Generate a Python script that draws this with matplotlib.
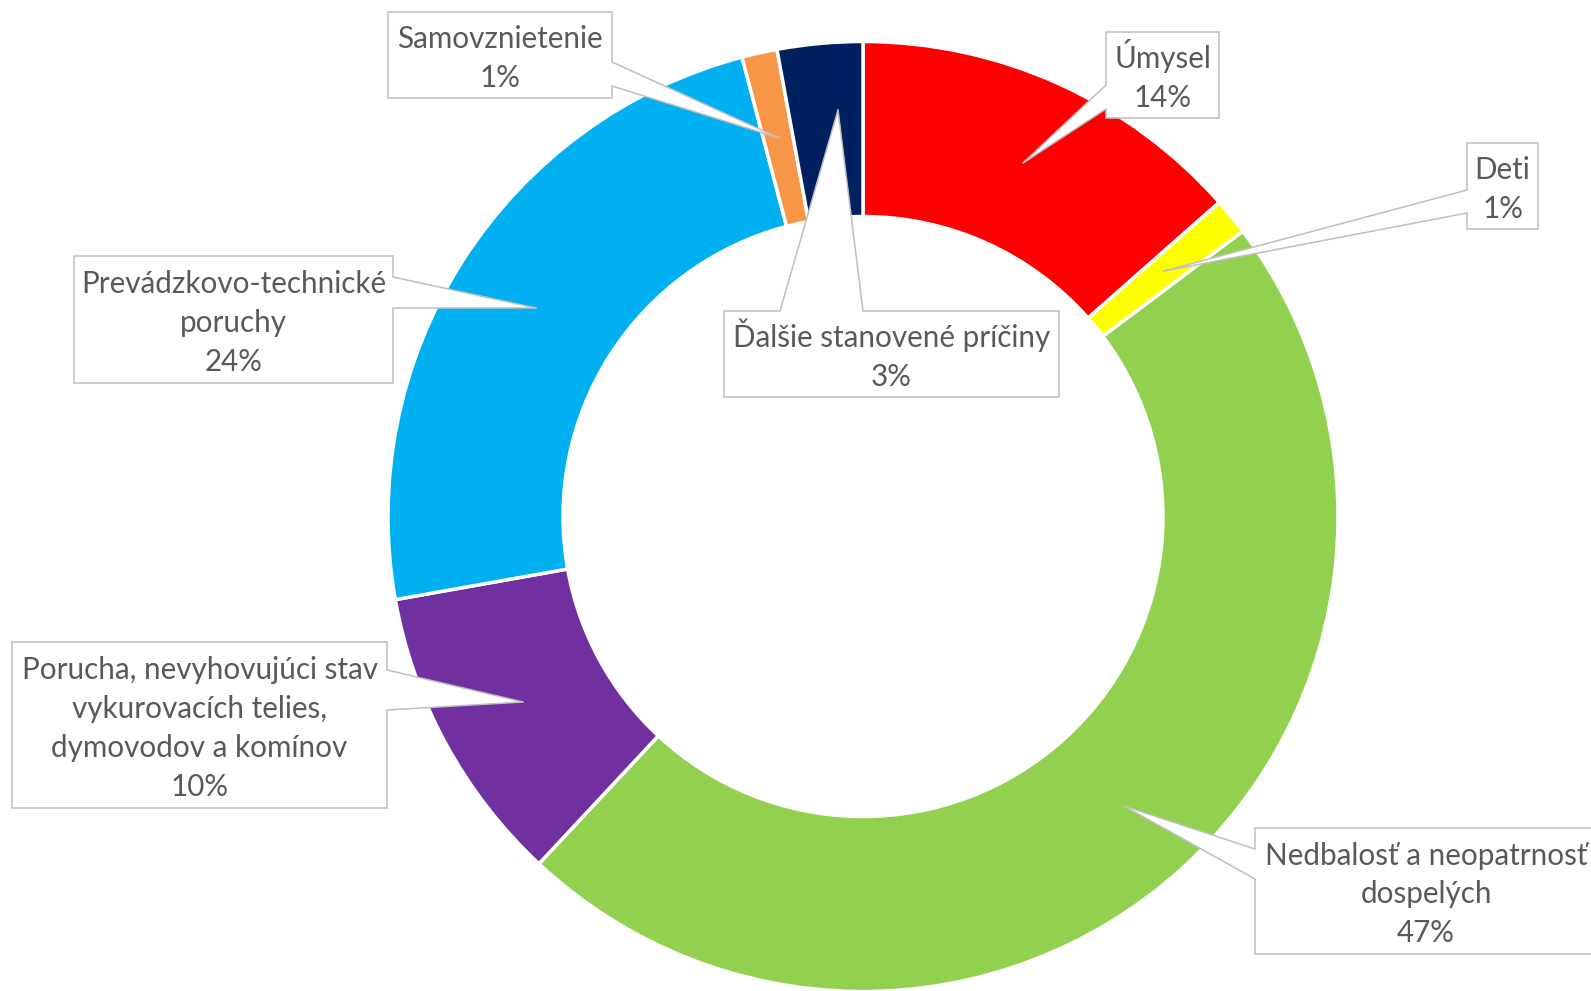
import matplotlib
matplotlib.use('Agg')
import matplotlib.pyplot as plt
from matplotlib.patches import Rectangle, Polygon

# data (shares in percent, clockwise from 12 o'clock)
categories = [
    'Úmysel',
    'Deti',
    'Nedbalosť a neopatrnosť\ndospelých',
    'Porucha, nevyhovujúci stav\nvykurovacích telies,\ndymovodov a komínov',
    'Prevádzkovo-technické\nporuchy',
    'Samovznietenie',
    'Ďalšie stanovené príčiny',
]
shares = [13.5, 1.25, 47.2, 10.25, 23.7, 1.2, 2.9]
colors = ['#FF0000', '#FFFF00', '#92D050', '#7030A0', '#00B0F0', '#F79646', '#002060']

# layout (pixels, y downwards)
W, H = 1591, 991
CX, CY = 863, 516.5
R_OUT, R_IN = 475, 300
LINE_PITCH = 39
FONT_SIZE = 21.3
TEXT_COLOR = '#595959'
EDGE_COLOR = '#BFBFBF'

# callout boxes: box=(x0, y0, x1, y1), side of box the pointer leaves from,
# the two base coordinates along that side, and the pointer tip
callouts = [
    dict(box=(1106, 32, 1219, 118), side='L', base=(85, 109), tip=(1023, 163)),
    dict(box=(1467, 143, 1538, 229), side='L', base=(190, 213), tip=(1164, 271)),
    dict(box=(1255, 828, 1597, 954), side='L', base=(849, 879), tip=(1124, 806)),
    dict(box=(12, 642, 387, 808), side='R', base=(670, 710), tip=(523, 702)),
    dict(box=(74, 256, 393, 383), side='R', base=(277, 308), tip=(536, 308)),
    dict(box=(388, 12, 612, 98), side='R', base=(62, 86), tip=(779, 138)),
    dict(box=(724, 311, 1059, 397), side='T', base=(780, 863), tip=(838, 110)),
]


def base_points(c):
    x0, y0, x1, y1 = c['box']
    a, b = c['base']
    inset = 3
    if c['side'] == 'L':
        return [(x0, a), (x0, b)], [(x0 + inset, a), (x0 + inset, b)]
    if c['side'] == 'R':
        return [(x1, a), (x1, b)], [(x1 - inset, a), (x1 - inset, b)]
    if c['side'] == 'T':
        return [(a, y0), (b, y0)], [(a, y0 + inset), (b, y0 + inset)]
    return [(a, y1), (b, y1)], [(a, y1 - inset), (b, y1 - inset)]


def draw_callout(ax, c, lines):
    x0, y0, x1, y1 = c['box']
    ax.add_patch(Rectangle((x0, y0), x1 - x0, y1 - y0, facecolor='white',
                           edgecolor=EDGE_COLOR, linewidth=1.1, zorder=3))
    (p1, p2), (q1, q2) = base_points(c)
    tip = c['tip']
    ax.add_patch(Polygon([q1, p1, tip, p2, q2], closed=True, facecolor='white',
                         edgecolor='none', zorder=4))
    for p in (p1, p2):
        ax.plot([p[0], tip[0]], [p[1], tip[1]], color=EDGE_COLOR, linewidth=1.1,
                solid_capstyle='round', zorder=5)
    cx = (x0 + x1) / 2
    cy = (y0 + y1) / 2
    n = len(lines)
    for i, line in enumerate(lines):
        y = cy + (i - (n - 1) / 2) * LINE_PITCH + 12.5
        ax.text(cx, y, line, ha='center', va='baseline', fontsize=FONT_SIZE,
                color=TEXT_COLOR, family=['Lato', 'DejaVu Sans'], zorder=6)


fig = plt.figure(figsize=(W / 100, H / 100), dpi=100)
ax = fig.add_axes([0, 0, 1, 1])

ax.pie(shares, colors=colors, startangle=-90, counterclock=True,
       radius=R_OUT, center=(CX, CY),
       wedgeprops=dict(width=R_OUT - R_IN, edgecolor='white', linewidth=2.5))

ax.set_xlim(0, W)
ax.set_ylim(H, 0)
ax.set_aspect('auto')
ax.axis('off')

total = sum(shares)
for label, value, c in zip(categories, shares, callouts):
    lines = label.split('\n') + [f"{round(value / total * 100)}%"]
    draw_callout(ax, c, lines)

fig.savefig('out.png', dpi=100, facecolor='white')
